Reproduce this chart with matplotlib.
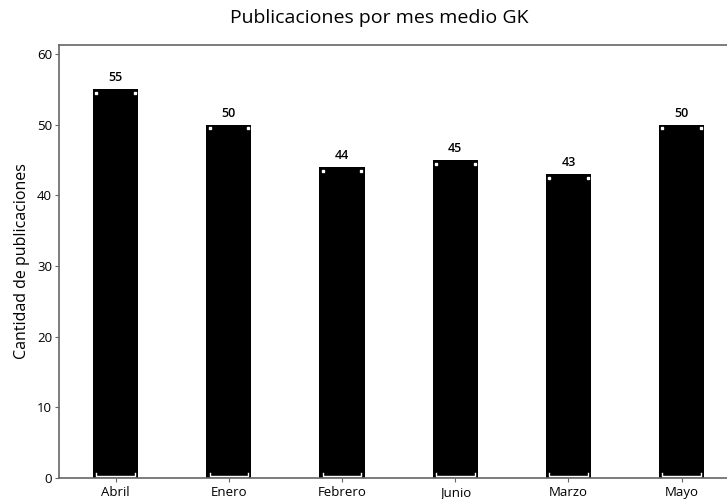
import matplotlib.pyplot as plt
import numpy as np

# Datos del gráfico
meses = ["Abril", "Enero", "Febrero", "Junio", "Marzo", "Mayo"]
publicaciones = [55, 50, 44, 45, 43, 50]

plt.rcParams['font.family'] = ['Open Sans', 'DejaVu Sans']

fig = plt.figure(figsize=(7.27, 4.99), dpi=100)
ax = fig.add_axes([0.0812, 0.042, 0.9188, 0.868])

x = np.arange(len(meses))
ancho = 0.4
ax.bar(x, publicaciones, width=ancho, color="black", zorder=2)

# detalles blancos dentro de las barras
for xi, v in zip(x, publicaciones):
    izq, der = xi - ancho / 2 + 0.03, xi + ancho / 2 - 0.03
    ax.plot([izq, izq, der, der], [0.7, 0.35, 0.35, 0.7], color="white", lw=1, zorder=3)
    ax.plot([izq, der], [v - 0.5, v - 0.5], ls="none", marker="s", ms=1.5,
            color="white", zorder=3)
    ax.text(xi, v + 0.7, str(v), ha="center", va="bottom", fontsize=9,
            fontweight="semibold")

ax.set_xlim(-0.5, 5.4)
ax.set_ylim(0, 61.3)
ax.set_xticks(x)
ax.set_xticklabels(meses, fontsize=9.5)
ax.set_yticks(range(0, 61, 10))
ax.tick_params(axis="y", labelsize=9.5, length=3, color="#666666", pad=2)
ax.tick_params(axis="x", length=3, color="#666666", pad=3)
ax.set_ylabel("Cantidad de publicaciones", fontsize=11.5, labelpad=5)
ax.set_title("Publicaciones por mes medio GK", fontsize=14, pad=16, x=0.48)

for lado in ["left", "top", "bottom"]:
    ax.spines[lado].set_color("#666666")
    ax.spines[lado].set_linewidth(1.2)
ax.spines["right"].set_visible(False)

fig.savefig("out.png", dpi=100)
